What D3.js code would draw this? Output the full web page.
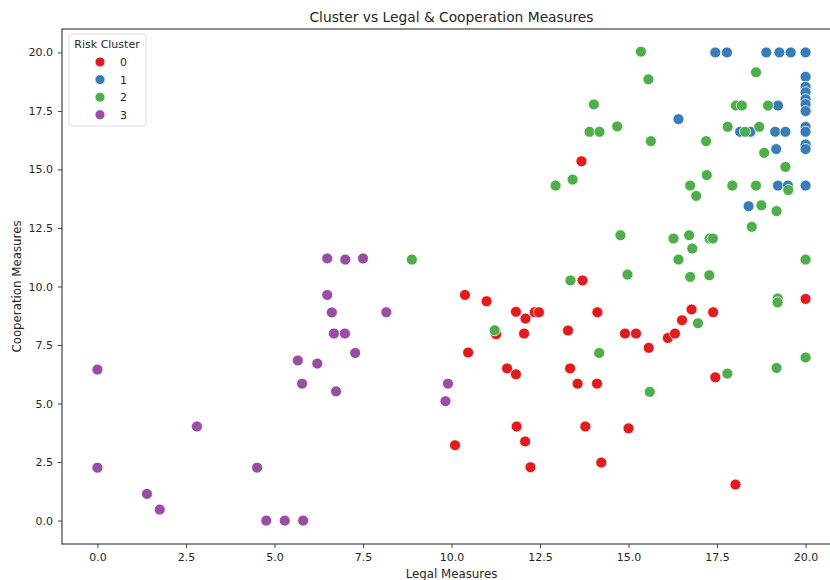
<!DOCTYPE html>
<html>
<head>
<meta charset="utf-8">
<script src="https://cdn.jsdelivr.net/npm/d3@7"></script>
<style>
  body { margin: 0; background: #fff; }
  text { font-family: "DejaVu Sans", sans-serif; fill: #262626; }
</style>
</head>
<body>
<script>
// risk cluster data: [legal, cooperation]
var cluster0 = [
  [13.67,15.35],[13.7,10.26],[10.38,9.64],[10.99,9.37],[11.82,8.92],[12.09,8.63],
  [12.35,8.9],[12.47,8.9],[14.12,8.9],[11.26,7.96],[12.05,7.99],[13.29,8.12],
  [14.9,7.99],[15.21,7.99],[10.47,7.18],[11.57,6.5],[11.82,6.25],[13.35,6.5],
  [13.56,5.85],[14.11,5.85],[15.57,7.38],[16.11,7.8],[16.31,7.99],[16.51,8.56],
  [16.78,9.02],[17.39,8.9],[20,9.47],[17.45,6.12],[10.1,3.22],[11.84,4.02],
  [12.08,3.38],[12.23,2.28],[13.78,4.02],[14.23,2.48],[15,3.94],[18.02,1.54]
]
var cluster1 = [
  [17.45,20],[17.78,20],[18.89,20],[19.26,20],[19.58,20],[20,20],
  [16.41,17.15],[19.22,17.73],[18.15,16.61],[18.44,16.61],[19.14,16.61],[19.43,16.61],
  [19.17,15.87],[19.22,14.31],[19.5,14.31],[18.39,13.43],
  [20,18.96],[20,18.53],[20,18.3],[20,18.0],[20,17.79],[20,17.49],
  [20,16.82],[20,16.61],[20,16.07],[20,15.87],[20,14.31]
]
var cluster2 = [
  [15.35,20.03],[15.56,18.85],[18.6,19.15],[14.02,17.78],[18.03,17.73],[18.2,17.73],
  [18.94,17.73],[13.9,16.61],[14.18,16.61],[14.68,16.84],[17.8,16.82],[18.29,16.61],
  [18.69,16.82],[15.63,16.21],[17.19,16.21],[18.83,15.71],[19.43,15.11],[13.42,14.57],
  [12.94,14.31],[17.21,14.76],[16.74,14.31],[17.93,14.31],[18.6,14.31],[19.51,14.12],
  [16.91,13.87],[18.75,13.47],[19.18,13.22],[18.48,12.55],[14.77,12.19],[16.27,12.05],
  [16.71,12.19],[17.29,12.05],[17.38,12.05],[16.8,11.62],[16.41,11.15],[20,11.15],
  [8.88,11.15],[13.36,10.26],[14.97,10.51],[16.74,10.41],[17.28,10.48],[19.21,9.49],
  [19.21,9.32],[16.96,8.43],[11.22,8.13],[14.17,7.16],[20,6.97],[19.18,6.52],
  [17.79,6.28],[15.6,5.5]
]
var cluster3 = [
  [0,6.45],[0,2.26],[1.4,1.14],[1.76,0.47],[2.81,4.02],[4.51,2.26],[4.77,0],[5.29,0],
  [5.81,0],[5.66,6.84],[5.78,5.85],[6.21,6.71],[6.49,9.64],[6.49,11.2],[6.62,8.89],
  [6.68,7.99],[6.99,7.99],[7.0,11.15],[7.28,7.16],[7.5,11.2],[8.16,8.9],[6.74,5.52],
  [9.83,5.1],[9.9,5.85]
]
var clusterNames = ["0", "1", "2", "3"]
var colors = ["#e41a1c", "#377eb8", "#4daf4a", "#984ea3"]
var ticks = [0, 2.5, 5, 7.5, 10, 12.5, 15, 17.5, 20]

var width = 830, height = 580
var margin = {top: 29, left: 62}
var plotW = 779, plotH = 515

var svg = d3.select("body").append("svg")
  .attr('width', width)
  .attr('height', height)

var x = d3.scaleLinear().domain([-1, 21]).range([margin.left, margin.left + plotW])
var y = d3.scaleLinear().domain([-1, 21]).range([margin.top + plotH, margin.top])

var points = []
;[cluster0, cluster1, cluster2, cluster3].forEach(function(c, i) {
  c.forEach(function(p) { points.push({x: p[0], y: p[1], c: i}) })
})

svg.selectAll("circle.pt")
  .data(points)
  .enter().append("circle")
  .attr('class', 'pt')
  .attr('cx', function(d) { return x(d.x) })
  .attr('cy', function(d) { return y(d.y) })
  .attr('r', 5.5)
  .attr('fill', function(d) { return colors[d.c] })
  .attr('stroke', '#fff')
  .attr('stroke-width', 0.8)

// axes
svg.append("g")
  .attr('transform', 'translate(0,' + (margin.top + plotH) + ')')
  .call(d3.axisBottom(x).tickValues(ticks).tickFormat(d3.format(".1f")).tickSize(4).tickPadding(5))
svg.append("g")
  .attr('transform', 'translate(' + margin.left + ',0)')
  .call(d3.axisLeft(y).tickValues(ticks).tickFormat(d3.format(".1f")).tickSize(4).tickPadding(5))

svg.selectAll(".domain").remove()
svg.selectAll(".tick line").attr('stroke', '#444')
svg.selectAll(".tick text").attr('font-size', 11).style('fill', '#262626')

svg.append("rect")
  .attr('x', margin.left)
  .attr('y', margin.top)
  .attr('width', plotW)
  .attr('height', plotH)
  .attr('fill', 'none')
  .attr('stroke', '#444')
  .attr('stroke-width', 1.2)

svg.append("text")
  .attr('x', margin.left + plotW / 2)
  .attr('y', 21.5)
  .attr('text-anchor', 'middle')
  .attr('font-size', 13.8)
  .text("Cluster vs Legal & Cooperation Measures")

svg.append("text")
  .attr('x', margin.left + plotW / 2)
  .attr('y', 578)
  .attr('text-anchor', 'middle')
  .attr('font-size', 11.8)
  .text("Legal Measures")

svg.append("text")
  .attr('transform', 'translate(21,' + (margin.top + plotH / 2) + ') rotate(-90)')
  .attr('text-anchor', 'middle')
  .attr('font-size', 11.8)
  .text("Cooperation Measures")

// legend
var legend = svg.append("g")
legend.append("rect")
  .attr('x', 69).attr('y', 34)
  .attr('width', 77).attr('height', 92)
  .attr('rx', 2)
  .attr('fill', '#fff')
  .attr('fill-opacity', 0.8)
  .attr('stroke', '#ddd')
legend.append("text")
  .attr('x', 107).attr('y', 48)
  .attr('text-anchor', 'middle')
  .attr('font-size', 11)
  .text("Risk Cluster")
var items = legend.selectAll("g.item")
  .data(clusterNames)
  .enter().append("g")
  .attr('class', 'item')
  .attr('transform', function(d, i) { return 'translate(0,' + (62 + i * 17.6) + ')' })
items.append("circle")
  .attr('cx', 100).attr('cy', 0).attr('r', 5)
  .attr('fill', function(d, i) { return colors[i] })
  .attr('stroke', '#fff').attr('stroke-width', 0.8)
items.append("text")
  .attr('x', 120).attr('y', 4)
  .attr('font-size', 11)
  .text(function(d) { return d })
</script>
</body>
</html>
